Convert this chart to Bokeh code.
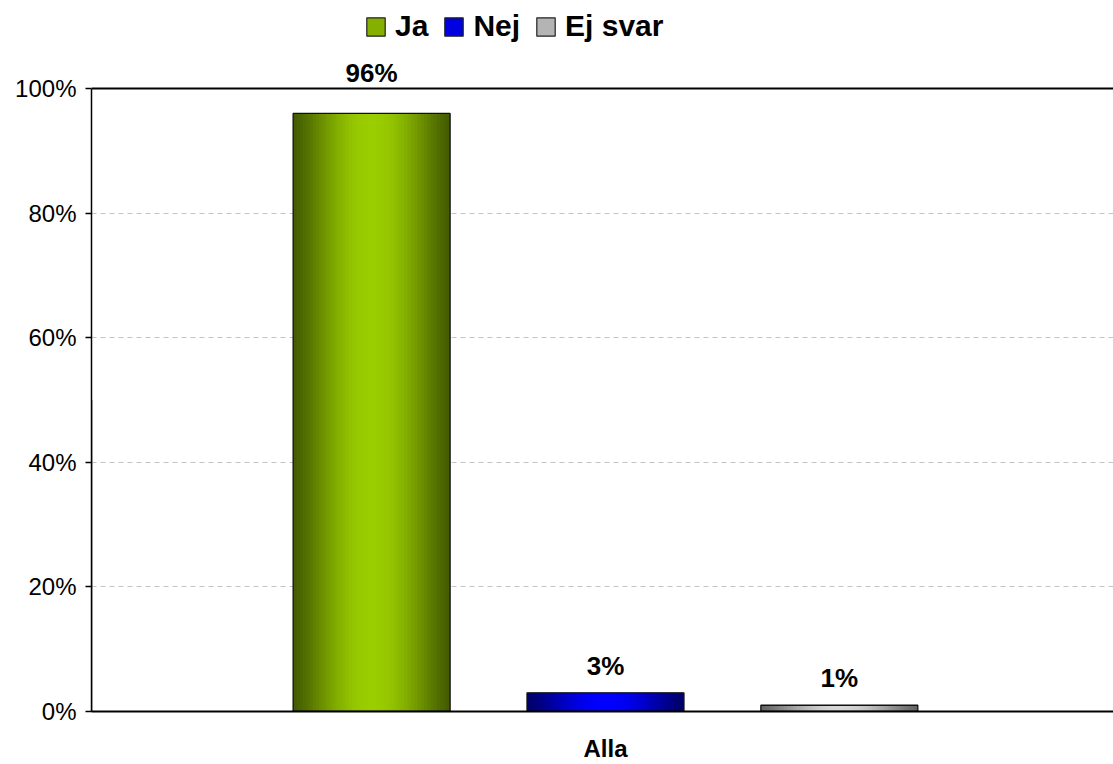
import math
from bokeh.plotting import figure
from bokeh.models import (Range1d, FixedTicker, NumeralTickFormatter, Span,
                          Legend, LegendItem, ColumnDataSource, LabelSet)
from bokeh.core.properties import value
from bokeh.embed import file_html
from bokeh.resources import INLINE

# ---------------- data ----------------
categories = ["Alla"]
series = ["Ja", "Nej", "Ej svar"]
values = [0.96, 0.03, 0.01]          # share per series for "Alla"
y_ticks = [0.0, 0.2, 0.4, 0.6, 0.8, 1.0]
grid_ticks = [0.2, 0.4, 0.6, 0.8]

# ---------------- style ----------------
FONT = "Liberation Sans"
centre_rgb = {"Ja": (155, 206, 0), "Nej": (0, 0, 255), "Ej svar": (215, 215, 215)}
edge_rgb = {"Ja": (68, 92, 0), "Nej": (0, 0, 105), "Ej svar": (100, 100, 100)}
swatch_rgb = {"Ja": "#86b000", "Nej": "#0000e0", "Ej svar": "#b4b4b4"}
offsets = [-0.2275, 0.0, 0.2275]     # dodge of each series inside the category
bar_w = 0.1527
label_dy = [31, 18, 18]
N_STRIPS = 48

# frame covers the whole height; the 0..1 axis occupies its lower 623 px
p = figure(width=1113, height=764, output_backend="svg", toolbar_location=None,
           x_range=Range1d(0, 0.9942), y_range=Range1d(0, 1.14125),
           min_border_left=91, min_border_right=0, min_border_top=0,
           min_border_bottom=53)
p.background_fill_color = "white"
p.border_fill_color = "white"
p.outline_line_color = None

cat_pos = [i + 0.5 for i in range(len(categories))]


def grad(s, t):
    g = math.sin(math.pi * t) ** 1.3
    c, e = centre_rgb[s], edge_rgb[s]
    r = [int(round(e[k] + (c[k] - e[k]) * g)) for k in range(3)]
    return "#%02x%02x%02x" % tuple(r)


# gradient bars built from strips
for ci, cp in enumerate(cat_pos):
    for si, s in enumerate(series):
        v = values[si]
        xc = cp + offsets[si]
        left0 = xc - bar_w / 2
        right0 = xc + bar_w / 2
        dw = bar_w / N_STRIPS
        lefts, rights, cols = [], [], []
        for j in range(N_STRIPS):
            l = left0 + j * dw
            r = min(l + 1.6 * dw, right0)
            lefts.append(l)
            rights.append(r)
            cols.append(grad(s, (j + 0.5) / N_STRIPS))
        src = ColumnDataSource(dict(left=lefts, right=rights,
                                    top=[v] * N_STRIPS, bottom=[0] * N_STRIPS,
                                    c=cols))
        p.quad(left="left", right="right", top="top", bottom="bottom",
               fill_color="c", line_color=None, source=src)

bar_x = [cat_pos[0] + o for o in offsets]
p.vbar(x=bar_x, top=values, width=bar_w, fill_color=None,
       line_color="#111111", line_width=1.3)

# data labels
lab_src = ColumnDataSource(dict(x=bar_x, y=values,
                                t=[f"{v:.0%}" for v in values], dy=label_dy))
p.add_layout(LabelSet(x="x", y="y", text="t", y_offset="dy", source=lab_src,
                      text_align="center", text_baseline="alphabetic",
                      text_font=value(FONT), text_font_size="26px",
                      text_font_style="bold", text_color="black",
                      level="overlay"))

# top line of the plot area at 100%
p.add_layout(Span(location=1.0, dimension="width", line_color="black",
                  line_width=2))

# axes
p.yaxis.ticker = FixedTicker(ticks=y_ticks)
p.yaxis.bounds = (0, 1)
p.yaxis.formatter = NumeralTickFormatter(format="0%")
p.yaxis.major_label_text_font = FONT
p.yaxis.major_label_text_font_size = "24px"
p.yaxis.major_label_text_color = "black"
p.yaxis.axis_line_color = "black"
p.yaxis.axis_line_width = 1.5
p.yaxis.major_tick_line_color = "black"
p.yaxis.major_tick_line_width = 1.5
p.yaxis.major_tick_out = 6
p.yaxis.major_tick_in = 0
p.yaxis.minor_tick_line_color = None
p.yaxis.major_label_standoff = 9

p.xaxis.ticker = FixedTicker(ticks=cat_pos)
p.xaxis.major_label_overrides = {cp: c for cp, c in zip(cat_pos, categories)}
p.xaxis.major_label_text_font = FONT
p.xaxis.major_label_text_font_size = "24px"
p.xaxis.major_label_text_font_style = "bold"
p.xaxis.major_label_text_color = "black"
p.xaxis.axis_line_color = "black"
p.xaxis.axis_line_width = 2
p.xaxis.major_tick_line_color = None
p.xaxis.minor_tick_line_color = None
p.xaxis.major_label_standoff = 17

p.xgrid.grid_line_color = None
p.ygrid.ticker = FixedTicker(ticks=grid_ticks)
p.ygrid.grid_line_color = "#c4c4c4"
p.ygrid.grid_line_dash = "5 4"
p.ygrid.grid_line_width = 1

# legend (swatch renderers sit outside the visible x range)
items = []
for s in series:
    r = p.vbar(x=[-5.0], top=[0.5], width=0.1, fill_color=swatch_rgb[s],
               line_color="#222222", line_width=1.2)
    items.append(LegendItem(label=s, renderers=[r]))
legend = Legend(items=items, orientation="horizontal", location=(273, 668),
                border_line_color=None, background_fill_alpha=0,
                padding=0, margin=0, spacing=14, label_standoff=8,
                glyph_width=23, glyph_height=23,
                label_text_font=FONT, label_text_font_size="30px",
                label_text_font_style="bold", label_text_color="black")
p.add_layout(legend, "center")

open("out.html", "w").write(file_html(p, INLINE))
